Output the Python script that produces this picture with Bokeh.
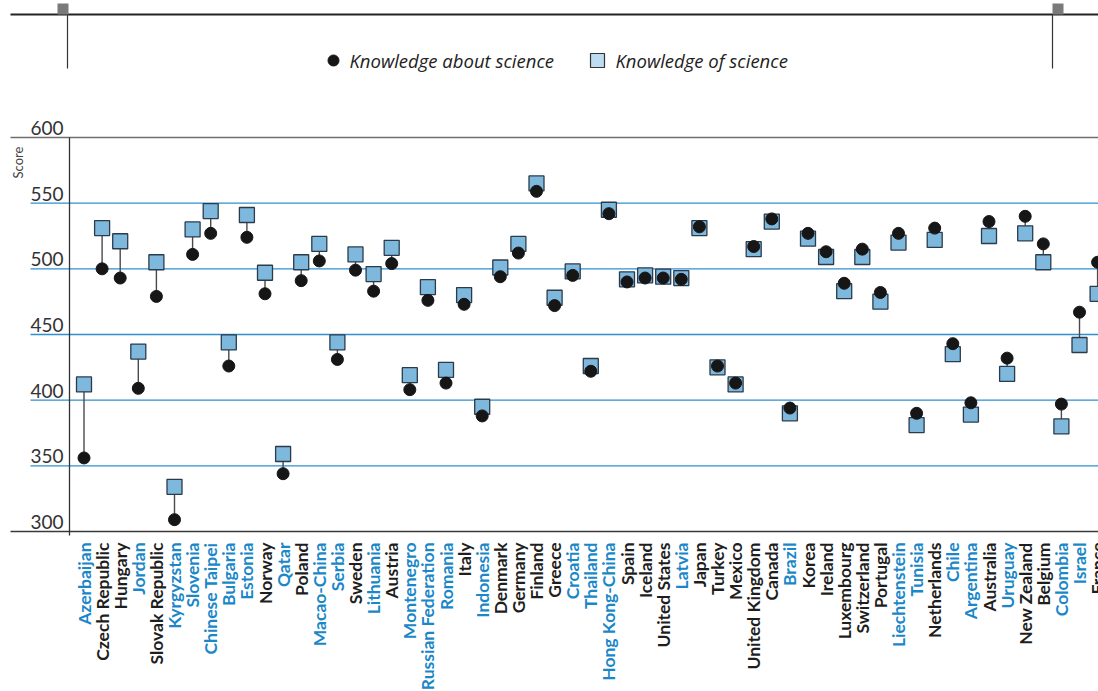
import math
from bokeh.plotting import figure
from bokeh.models import ColumnDataSource, Range1d
from bokeh.core.properties import value
from bokeh.embed import file_html
from bokeh.resources import INLINE

# ---------------- data ----------------
countries = ["Azerbaijan", "Czech Republic", "Hungary", "Jordan", "Slovak Republic",
             "Kyrgyzstan", "Slovenia", "Chinese Taipei", "Bulgaria", "Estonia",
             "Norway", "Qatar", "Poland", "Macao-China", "Serbia",
             "Sweden", "Lithuania", "Austria", "Montenegro", "Russian Federation",
             "Romania", "Italy", "Indonesia", "Denmark", "Germany",
             "Finland", "Greece", "Croatia", "Thailand", "Hong Kong-China",
             "Spain", "Iceland", "United States", "Latvia", "Japan",
             "Turkey", "Mexico", "United Kingdom", "Canada", "Brazil",
             "Korea", "Ireland", "Luxembourg", "Switzerland", "Portugal",
             "Liechtenstein", "Tunisia", "Netherlands", "Chile", "Argentina",
             "Australia", "Uruguay", "New Zealand", "Belgium", "Colombia",
             "Israel", "France"]

knowledge_about = [356, 500, 493, 409, 479, 309, 511, 527, 426, 524,
                   481, 344, 491, 506, 431, 499, 483, 504, 408, 476,
                   413, 473, 388, 494, 512, 559, 472, 495, 422, 542,
                   490, 493, 493, 492, 532, 426, 413, 517, 538, 394,
                   527, 513, 489, 515, 482, 527, 390, 531, 443, 398,
                   536, 432, 540, 519, 397, 467, 505]

knowledge_of = [412, 531, 521, 437, 505, 334, 530, 544, 444, 541,
                497, 359, 505, 519, 444, 511, 496, 516, 419, 486,
                423, 480, 395, 501, 519, 565, 478, 498, 426, 545,
                492, 495, 494, 493, 531, 425, 412, 515, 536, 390,
                523, 509, 483, 509, 475, 520, 381, 522, 435, 389,
                525, 420, 527, 505, 380, 442, 481]

partners = ["Azerbaijan", "Jordan", "Kyrgyzstan", "Slovenia", "Chinese Taipei",
            "Bulgaria", "Estonia", "Qatar", "Macao-China", "Serbia", "Lithuania",
            "Montenegro", "Russian Federation", "Romania", "Indonesia", "Croatia",
            "Thailand", "Hong Kong-China", "Latvia", "Brazil", "Liechtenstein",
            "Tunisia", "Chile", "Argentina", "Uruguay", "Colombia", "Israel"]

y_ticks = [300, 350, 400, 450, 500, 550, 600]
grid_vals = [350, 400, 450, 500, 550]

# ---------------- layout helpers (picture pixels -> data) ----------------
W, H = 1098, 691
OFF = 0                            # figure origin in the picture
X0_PAGE, DX = 83.5, 18.1          # picture x of first country, spacing
Y600_PAGE, PPU = 137.0, 394.0 / 300.0


def xi(px):
    return (px - X0_PAGE) / DX


def ys(py):
    return 600 - (py - Y600_PAGE) / PPU


p = figure(width=W, height=H,
           x_range=Range1d(xi(OFF), xi(OFF + W)), y_range=Range1d(ys(OFF + H), ys(OFF)),
           output_backend="svg", toolbar_location=None,
           x_axis_location=None, y_axis_location=None,
           min_border=0, outline_line_color=None)
for g in p.grid:
    g.visible = False
p.background_fill_color = "white"
p.border_fill_color = "white"

BLUE_LINE = "#2f8fcf"
x_right = xi(OFF + W + 5)

# gridlines
p.segment(x0=[xi(30)] * len(grid_vals), y0=grid_vals,
          x1=[x_right] * len(grid_vals), y1=grid_vals,
          line_color=BLUE_LINE, line_width=1.4)
# top and bottom frame lines
p.segment(x0=[xi(10)], y0=[600], x1=[x_right], y1=[600], line_color="#6f6f6f", line_width=1.6)
p.segment(x0=[xi(10)], y0=[300], x1=[x_right], y1=[300], line_color="#3a3a3a", line_width=1.6)
# vertical axis line
p.segment(x0=[xi(69)], y0=[ys(535)], x1=[xi(69)], y1=[600], line_color="#333333", line_width=1.3)

# y tick labels (sitting above the lines)
p.text(x=[xi(30)] * len(y_ticks), y=[ys(Y600_PAGE + (600 - v) * PPU - 9.5) for v in y_ticks],
       text=[str(v) for v in y_ticks], text_font=value("Lato"), text_font_size="19px",
       text_color="#333333", text_align="left", text_baseline="middle")
# y axis title
p.text(x=[xi(17)], y=[ys(162)], text=["Score"], angle=math.pi / 2,
       text_font=value("Lato"), text_font_size="13px", text_color="#444444",
       text_align="center", text_baseline="middle")

# data marks
idx = list(range(len(countries)))
src = ColumnDataSource(dict(x=idx, about=knowledge_about, of=knowledge_of,
                            name=countries,
                            color=["#1a87c8" if c in partners else "#1e1e1e" for c in countries]))
p.segment(x0="x", y0="about", x1="x", y1="of", source=src, line_color="#4a4a4a", line_width=1.4)
p.scatter(x="x", y="of", source=src, marker="square", size=15,
          fill_color="#7fb8dd", line_color="#2a3b4c", line_width=1.3)
p.scatter(x="x", y="about", source=src, marker="circle", size=12,
          fill_color="#161616", line_color="#161616")

# country labels
p.text(x="x", y=ys(542), text="name", source=src, angle=math.pi / 2,
       text_font=value("Lato"), text_font_style="bold", text_font_size="17.5px",
       text_color="color", text_align="right", text_baseline="middle")

# legend
p.scatter(x=[xi(333)], y=[ys(60)], marker="circle", size=11, fill_color="#161616", line_color="#161616")
p.text(x=[xi(349)], y=[ys(60)], text=["Knowledge about science"], text_font=value("Open Sans"),
       text_font_style="italic", text_font_size="18.5px", text_color="#222222",
       text_align="left", text_baseline="middle")
p.scatter(x=[xi(597)], y=[ys(60)], marker="square", size=14, fill_color="#bcdcf1",
          line_color="#333333", line_width=1.2)
p.text(x=[xi(615)], y=[ys(60)], text=["Knowledge of science"], text_font=value("Open Sans"),
       text_font_style="italic", text_font_size="18.5px", text_color="#222222",
       text_align="left", text_baseline="middle")

# top decorations (frame remnants)
p.segment(x0=[xi(10)], y0=[ys(14)], x1=[x_right], y1=[ys(14)], line_color="#222222", line_width=2)
p.segment(x0=[xi(67), xi(1052)], y0=[ys(14), ys(14)], x1=[xi(67), xi(1052)], y1=[ys(68), ys(68)],
          line_color="#333333", line_width=1.2)
p.quad(left=[xi(57), xi(1052)], right=[xi(68), xi(1063)], bottom=[ys(14), ys(14)], top=[ys(3), ys(3)],
       fill_color="#7a7a7a", line_color=None)

open("out.html", "w").write(file_html(p, INLINE))
